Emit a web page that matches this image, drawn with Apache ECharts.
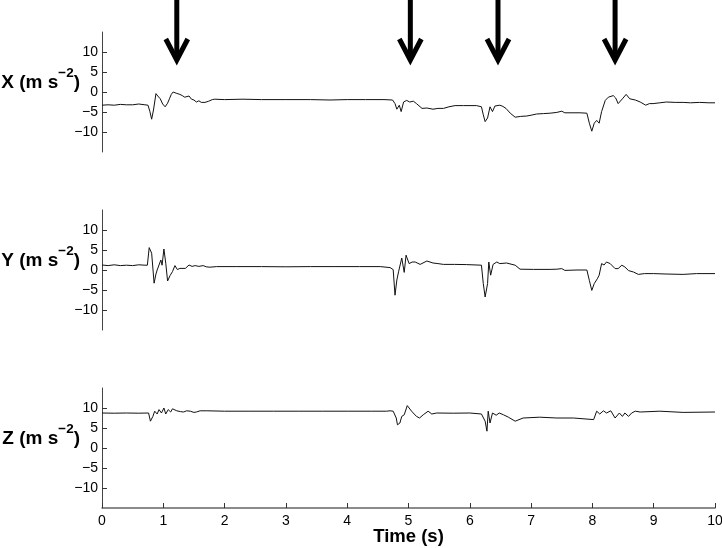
<!DOCTYPE html>
<html>
<head>
<meta charset="utf-8">
<script src="https://cdn.jsdelivr.net/npm/echarts@6/dist/echarts.min.js"></script>
<style>html,body{margin:0;padding:0;background:#fff}#c{width:722px;height:548px}</style>
</head>
<body>
<div id="c"></div>
<script>
// ---- data (time in s, acceleration in m s^-2) ----
const accX = [[0,-3.3],[0.1,-3.2],[0.2,-3.3],[0.3,-3.1],[0.4,-3.2],[0.5,-3.2],[0.6,-3.0],[0.7,-3.2],[0.75,-3.3],
[0.78,-4.8],[0.81,-6.8],[0.84,-4.5],[0.88,-0.4],[0.91,-1.0],[0.95,-1.7],[0.99,-3.0],[1.03,-3.7],[1.07,-2.8],[1.10,-1.7],[1.13,-0.6],[1.16,0.0],[1.21,-0.3],[1.27,-0.6],[1.31,-0.9],[1.35,-1.3],[1.38,-1.4],[1.42,-1.0],[1.46,-1.8],[1.50,-2.0],[1.54,-2.5],[1.58,-2.2],[1.62,-2.6],[1.68,-2.6],[1.74,-2.3],[1.80,-1.9],[1.84,-1.8],[2.0,-1.9],[2.3,-1.8],[2.6,-1.9],[3.0,-1.9],[3.4,-1.9],[3.72,-2.0],[4.0,-1.9],[4.3,-1.9],[4.6,-1.9],[4.74,-2.0],[4.78,-2.9],[4.81,-4.3],[4.85,-3.3],[4.88,-4.9],[4.92,-2.5],[4.97,-2.1],[5.02,-2.5],[5.08,-2.3],[5.13,-2.9],[5.22,-4.1],[5.30,-4.0],[5.40,-4.3],[5.48,-4.1],[5.57,-4.1],[5.66,-3.7],[5.76,-3.4],[5.9,-3.4],[6.11,-3.4],[6.19,-3.7],[6.22,-5.7],[6.25,-7.4],[6.29,-6.5],[6.33,-3.7],[6.37,-4.9],[6.41,-3.5],[6.44,-3.0],[6.49,-3.3],[6.54,-3.6],[6.59,-4.1],[6.66,-5.3],[6.74,-6.3],[6.83,-6.1],[6.93,-6.0],[7.0,-5.8],[7.09,-5.5],[7.2,-5.4],[7.31,-5.3],[7.42,-5.1],[7.50,-4.8],[7.55,-5.2],[7.65,-5.2],[7.80,-5.2],[7.91,-5.3],[7.95,-7.8],[7.99,-9.8],[8.03,-7.8],[8.07,-7.1],[8.11,-7.8],[8.15,-4.9],[8.21,-2.1],[8.26,-1.3],[8.34,-0.9],[8.38,-1.5],[8.42,-2.9],[8.49,-1.7],[8.55,-0.6],[8.61,-1.7],[8.70,-2.0],[8.78,-2.5],[8.87,-3.3],[8.93,-2.9],[8.99,-2.9],[9.1,-2.7],[9.21,-2.5],[9.35,-2.6],[9.48,-2.6],[9.6,-2.7],[9.75,-2.6],[9.9,-2.7],[10.0,-2.7]];

const accY = [[0,1.25],[0.1,1.1],[0.2,1.3],[0.3,1.1],[0.4,1.2],[0.5,1.1],[0.6,1.3],[0.7,1.2],[0.74,1.2],[0.77,5.6],[0.81,4.2],[0.85,-3.3],[0.88,-1.0],[0.90,0.0],[0.93,-0.3],[0.96,2.5],[0.98,1.2],[1.01,5.25],[1.04,1.7],[1.07,-2.75],[1.11,-1.4],[1.15,-0.4],[1.19,1.1],[1.23,0.1],[1.27,0.4],[1.36,0.4],[1.42,1.25],[1.47,0.9],[1.52,1.1],[1.58,0.9],[1.65,1.1],[1.70,0.8],[1.76,0.7],[1.87,0.85],[2.2,0.85],[2.6,0.85],[3.0,0.8],[3.4,0.85],[3.8,0.85],[4.2,0.85],[4.54,0.85],[4.70,0.6],[4.75,0.1],[4.78,-6.3],[4.81,-2.5],[4.84,-0.3],[4.89,3.0],[4.93,-0.6],[4.96,3.7],[5.01,1.6],[5.06,2.0],[5.11,2.0],[5.19,1.4],[5.30,2.25],[5.40,1.75],[5.48,1.6],[5.57,1.4],[5.75,1.4],[5.95,1.35],[6.19,1.2],[6.22,-3.4],[6.25,-6.75],[6.29,-3.4],[6.31,2.0],[6.34,-1.3],[6.38,1.4],[6.44,2.0],[6.49,1.6],[6.60,1.75],[6.74,1.2],[6.82,0.2],[7.04,0.15],[7.31,0.15],[7.42,0.2],[7.50,0.35],[7.55,-0.1],[7.75,0.0],[7.91,0.0],[7.95,-2.6],[7.99,-5.1],[8.03,-3.4],[8.08,-2.2],[8.11,-1.3],[8.15,1.6],[8.19,1.25],[8.23,2.0],[8.29,1.6],[8.32,2.0],[8.37,0.35],[8.42,0.35],[8.48,1.2],[8.53,0.75],[8.59,-0.15],[8.67,-0.5],[8.75,-1.1],[8.85,-0.9],[9.0,-0.9],[9.2,-1.0],[9.48,-1.1],[9.7,-0.9],[10.0,-0.9]];

const accZ = [[0,8.75],[0.2,8.7],[0.4,8.75],[0.6,8.7],[0.76,8.75],[0.79,6.7],[0.83,7.9],[0.86,9.2],[0.90,8.5],[0.93,9.6],[0.97,8.75],[1.01,10.0],[1.04,8.5],[1.08,9.6],[1.12,9.0],[1.15,9.8],[1.22,9.3],[1.28,9.1],[1.33,9.0],[1.38,9.3],[1.44,9.2],[1.50,8.9],[1.54,9.0],[1.60,9.3],[1.71,9.3],[2.0,9.2],[2.4,9.2],[2.8,9.2],[3.2,9.2],[3.6,9.2],[4.0,9.2],[4.4,9.2],[4.64,9.2],[4.70,9.3],[4.75,9.2],[4.80,7.5],[4.82,5.8],[4.86,6.25],[4.89,7.9],[4.93,8.3],[4.98,10.6],[5.05,9.2],[5.13,7.9],[5.18,7.5],[5.24,8.3],[5.32,9.2],[5.38,8.5],[5.46,8.75],[5.73,8.7],[6.00,8.75],[6.19,8.5],[6.25,6.7],[6.28,4.2],[6.30,9.2],[6.33,6.25],[6.37,8.75],[6.43,8.2],[6.48,8.75],[6.55,8.3],[6.63,7.7],[6.74,6.7],[6.87,7.5],[7.14,7.7],[7.42,7.5],[7.69,7.5],[8.02,7.1],[8.07,9.2],[8.12,8.5],[8.18,9.3],[8.23,8.75],[8.30,9.3],[8.37,7.5],[8.44,8.75],[8.49,7.9],[8.53,8.75],[8.59,7.9],[8.64,8.75],[8.70,9.2],[8.78,9.0],[9.10,9.2],[9.48,8.9],[10.0,9.0]];

const arrowTimes = [1.22, 5.03, 6.46, 8.37];
const yTicks = [-10, -5, 0, 5, 10];
const axisNames = ['X', 'Y', 'Z'];
const timeLabel = 'Time (s)';

// ---- chart ----
const FONT = 'Liberation Sans, Arial, Helvetica, sans-serif';
const chart = echarts.init(document.getElementById('c'), null, {renderer: 'canvas'});
const L = 102, W = 613;
const tops = [32, 210, 388];
const fmt = v => String(v).replace('-', '\u2212');

const grids = tops.map(t => ({left: L, width: W, top: t, height: 120, containLabel: false, outerBoundsMode: 'none'}));
grids.push({left: L, width: W, top: 0, height: 65, containLabel: false, outerBoundsMode: 'none'});

const xAxes = tops.map((t, i) => ({
  gridIndex: i, type: 'value', min: 0, max: 10, interval: 1,
  show: i === 2,
  axisLine: {show: true, onZero: false, lineStyle: {color: '#666', width: 1.5}},
  axisTick: {show: true, inside: true, length: 5, lineStyle: {color: '#333'}},
  axisLabel: {show: true, color: '#000', fontSize: 14, fontFamily: FONT, margin: 6},
  splitLine: {show: false},
  name: i === 2 ? timeLabel : '',
  nameLocation: 'middle', nameGap: 19, nameMoveOverlap: false,
  nameTextStyle: {color: '#000', fontSize: 18.5, fontWeight: 'bold', fontFamily: FONT, verticalAlign: 'top'}
}));
xAxes.push({gridIndex: 3, type: 'value', min: 0, max: 10, show: false});

const yAxes = tops.map((t, i) => ({
  gridIndex: i, type: 'value', min: -15, max: 15,
  axisLine: {show: true, onZero: false, lineStyle: {color: '#444', width: 1}},
  axisTick: {show: true, inside: true, length: 5, customValues: yTicks, lineStyle: {color: '#333'}},
  axisLabel: {show: true, color: '#000', fontSize: 14, fontFamily: FONT, margin: 4, customValues: yTicks, formatter: fmt},
  splitLine: {show: false},
  name: '{a|' + axisNames[i] + ' (m s}{s|\u22122}{a|)}',
  nameLocation: 'middle', nameRotate: 0, nameGap: 22, nameMoveOverlap: false,
  nameTextStyle: {
    align: 'right', verticalAlign: 'middle', padding: [0, 0, 19, 0],
    rich: {
      a: {fontSize: 19, fontWeight: 'bold', fontFamily: FONT, color: '#000', lineHeight: 32},
      s: {fontSize: 13.5, fontWeight: 'bold', fontFamily: FONT, color: '#000', lineHeight: 15, verticalAlign: 'top'}
    }
  }
}));
yAxes.push({gridIndex: 3, type: 'value', min: 0, max: 1, show: false});

const lineSeries = [accX, accY, accZ].map((d, i) => ({
  type: 'line', xAxisIndex: i, yAxisIndex: i, data: d,
  showSymbol: false, symbol: 'none', smooth: false,
  lineStyle: {color: '#111', width: 1}
}));

const arrowSeries = {
  type: 'custom', xAxisIndex: 3, yAxisIndex: 3, clip: false,
  data: arrowTimes.map(t => [t, 0]),
  encode: {x: 0, y: 1},
  renderItem: function (params, api) {
    const t = api.value(0);
    const top = api.coord([t, 1]);
    const bot = api.coord([t, 0]);
    const x = top[0];
    const tip = bot[1] - 5;
    return {
      type: 'group', children: [
        {type: 'line', shape: {x1: x, y1: top[1], x2: x, y2: tip}, style: {stroke: '#000', lineWidth: 5}},
        {type: 'polyline', shape: {points: [[x - 11, tip - 21], [x, tip], [x + 11, tip - 21]]},
         style: {stroke: '#000', lineWidth: 5, lineJoin: 'miter', fill: null}}
      ]
    };
  }
};

chart.setOption({
  animation: false,
  backgroundColor: '#fff',
  grid: grids,
  xAxis: xAxes,
  yAxis: yAxes,
  series: lineSeries.concat([arrowSeries])
});
</script>
</body>
</html>
